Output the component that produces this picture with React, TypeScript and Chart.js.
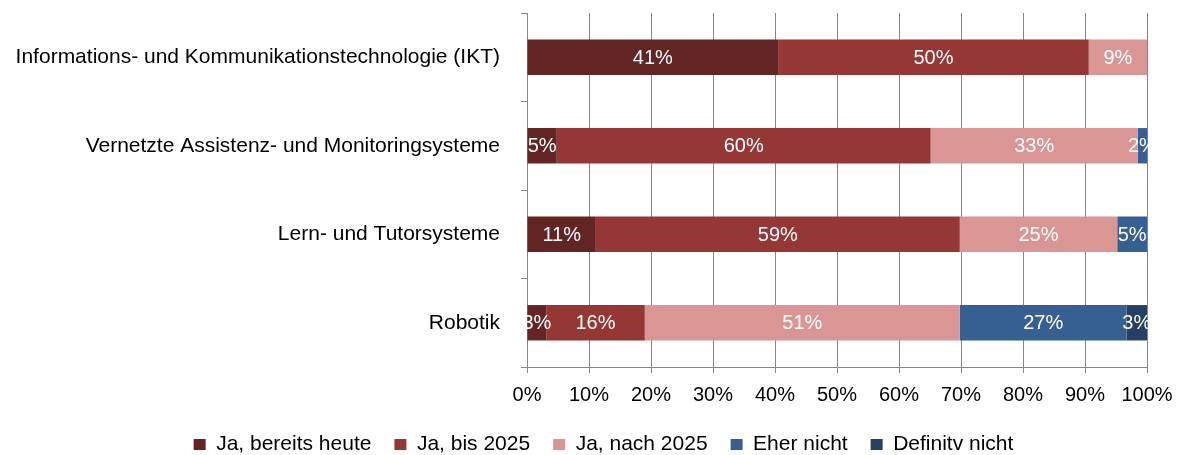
import React, { useEffect, useRef } from "react";
import { Chart, registerables } from "chart.js";

Chart.register(...registerables);

const categories = [
  "Informations- und Kommunikationstechnologie (IKT)",
  "Vernetzte Assistenz- und Monitoringsysteme",
  "Lern- und Tutorsysteme",
  "Robotik",
];
const seriesNames = ["Ja, bereits heute", "Ja, bis 2025", "Ja, nach 2025", "Eher nicht", "Definitv nicht"];
const jaHeute = [40.5, 4.8, 11.1, 3.1];
const jaBis2025 = [50.1, 60.3, 58.7, 15.9];
const jaNach2025 = [9.4, 33.4, 25.4, 50.8];
const eherNicht = [0, 1.5, 4.8, 26.9];
const definitivNicht = [0, 0, 0, 3.3];
const seriesColors = ["#632523", "#953735", "#D99694", "#376092", "#254061"];
const xTickStep = 10;
const xMax = 100;

const FONT = "'Liberation Sans', Arial, sans-serif";
const GRID = "#868686";

const labelPlugin = {
  id: "segmentLabels",
  afterDatasetsDraw(chart: any) {
    const ctx = chart.ctx;
    ctx.save();
    ctx.fillStyle = "#ffffff";
    ctx.font = `20px ${FONT}`;
    ctx.textAlign = "center";
    ctx.textBaseline = "middle";
    chart.data.datasets.forEach((ds: any, di: number) => {
      const meta = chart.getDatasetMeta(di);
      meta.data.forEach((el: any, i: number) => {
        const v = ds.data[i];
        if (!v) return;
        const p = el.getCenterPoint();
        ctx.fillText(`${Math.round(v)}%`, p.x, p.y + 1);
      });
    });
    ctx.restore();
  },
};

// shifts the centred legend row slightly right, as in the reference
const legendShift = {
  id: "legendShift",
  afterLayout(chart: any) {
    if (chart.legend) chart.legend.left = 60;
  },
};

export default function App() {
  const ref = useRef<HTMLCanvasElement | null>(null);

  useEffect(() => {
    if (!ref.current) return;
    const allSeries = [jaHeute, jaBis2025, jaNach2025, eherNicht, definitivNicht];
    const chart = new Chart(ref.current, {
      type: "bar",
      data: {
        labels: categories,
        datasets: allSeries.map((d, i) => ({
          label: seriesNames[i],
          data: d,
          backgroundColor: seriesColors[i],
          borderWidth: 0,
          barPercentage: 0.4,
          categoryPercentage: 1,
        })),
      },
      options: {
        indexAxis: "y",
        animation: false,
        responsive: false,
        maintainAspectRatio: false,
        layout: { padding: { left: 0, right: 33, top: 13, bottom: -10 } },
        plugins: {
          tooltip: { enabled: false },
          legend: {
            position: "bottom",
            labels: {
              boxWidth: 12,
              boxHeight: 11,
              padding: 23,
              color: "#000",
              font: { family: FONT, size: 21 },
            },
          },
        },
        scales: {
          x: {
            stacked: true,
            min: 0,
            max: xMax,
            ticks: {
              stepSize: xTickStep,
              callback: (v: any) => `${v}%`,
              color: "#000",
              font: { family: FONT, size: 20 },
              padding: 10,
              maxRotation: 0,
            },
            grid: { color: GRID, lineWidth: 1, tickLength: 6, drawTicks: true },
            border: { color: GRID, width: 1 },
            afterFit: (s: any) => {
              s.height = 44;
              s.paddingLeft = 0;
              s.paddingRight = 0;
            },
          },
          y: {
            stacked: true,
            offset: true,
            ticks: {
              color: "#000",
              font: { family: FONT, size: 21 },
              padding: 21,
            },
            grid: { offset: true, drawOnChartArea: false, drawTicks: true, tickLength: 6, color: GRID },
            border: { color: GRID, width: 1 },
            afterFit: (s: any) => {
              s.width = 527;
              s.paddingTop = 0;
              s.paddingBottom = 0;
            },
          },
        },
      },
      plugins: [labelPlugin, legendShift],
    } as any);
    return () => chart.destroy();
  }, []);

  return (
    <div style={{ position: "fixed", left: 0, top: 0, width: 1180, height: 455, background: "#fff" }}>
      <canvas ref={ref} width={1180} height={455} style={{ width: 1180, height: 455, display: "block" }} />
    </div>
  );
}
